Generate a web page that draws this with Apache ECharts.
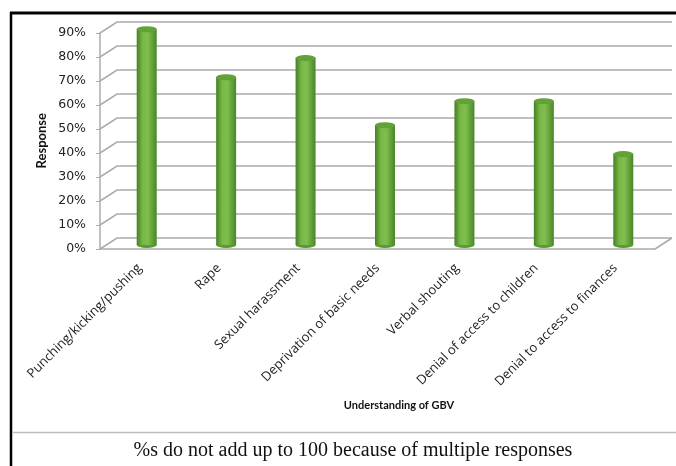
<!DOCTYPE html>
<html>
<head>
<meta charset="utf-8">
<script src="https://cdn.jsdelivr.net/npm/echarts@6/dist/echarts.min.js"></script>
<style>
html,body{margin:0;padding:0;background:#fff;}
#chart{width:676px;height:466px;}
</style>
</head>
<body>
<div id="chart"></div>
<script>
// ---- data ----
const categories = [
  'Punching/kicking/pushing',
  'Rape',
  'Sexual harassment',
  'Deprivation of basic needs',
  'Verbal shouting',
  'Denial of access to children',
  'Denial to access to finances'
];
const responses = [90, 70, 78, 50, 60, 60, 38];
const yTicks = [0, 10, 20, 30, 40, 50, 60, 70, 80, 90];
const xTitle = 'Understanding of GBV';
const yTitle = 'Response';
const footnote = '%s do not add up to 100 because of multiple responses';

// ---- style constants ----
const DEPTH_X = 17, DEPTH_Y = 11;
const gridColor = '#ababab';

const chart = echarts.init(document.getElementById('chart'), null, {renderer: 'canvas'});

const barGradient = new echarts.graphic.LinearGradient(0, 0, 1, 0, [
  {offset: 0, color: '#467f24'},
  {offset: 0.3, color: '#78b847'},
  {offset: 0.55, color: '#7fbf4e'},
  {offset: 1, color: '#4a8628'}
]);

const option = {
  backgroundColor: '#ffffff',
  animation: false,
  title: [
    {text: xTitle, left: 394, top: 395, textAlign: 'center',
     textStyle: {fontFamily: 'Lato', fontWeight: 'bold', fontSize: 11, color: '#111'}},
    {text: footnote, left: 348, top: 436, textAlign: 'center',
     textStyle: {fontFamily: 'Liberation Serif', fontWeight: 'normal', fontSize: 20, color: '#111'}}
  ],
  graphic: [
    {type: 'line', shape: {x1: 11, y1: 12, x2: 11, y2: 466}, style: {stroke: '#000', lineWidth: 2.5}},
    {type: 'line', shape: {x1: 10, y1: 13, x2: 676, y2: 13}, style: {stroke: '#000', lineWidth: 3}},
    {type: 'line', shape: {x1: 12, y1: 432.5, x2: 676, y2: 432.5}, style: {stroke: '#bdbdbd', lineWidth: 1.5}},
    {type: 'text', left: 35, top: 113, rotation: Math.PI / 2,
     style: {text: yTitle, fontFamily: 'Lato', fontWeight: 'bold', fontSize: 13, fill: '#111'}}
  ],
  grid: [
    {left: 100, right: 21, top: 33, bottom: 217},
    {left: 107, right: 13, top: 29, bottom: 221}
  ],
  xAxis: [
    {type: 'category', gridIndex: 0, data: categories,
     axisLine: {show: true, lineStyle: {color: gridColor, width: 1.5}},
     axisTick: {show: false},
     axisLabel: {rotate: 45, margin: 17, interval: 0, fontFamily: 'Open Sans', fontSize: 13, color: '#222'}},
    {type: 'category', gridIndex: 1, data: categories, show: false}
  ],
  yAxis: [
    {type: 'value', gridIndex: 0, min: 0, max: 90, interval: 10,
     axisLine: {show: true, lineStyle: {color: gridColor, width: 1.5}},
     axisTick: {show: true, length: 4, lineStyle: {color: gridColor}},
     splitLine: {show: false},
     axisLabel: {formatter: '{value}%', fontFamily: 'DejaVu Sans', fontSize: 12.5, color: '#222', margin: 14}},
    {type: 'value', gridIndex: 1, min: 0, max: 90, interval: 10, show: false, splitLine: {show: false}}
  ],
  series: [
    {
      type: 'custom', xAxisIndex: 0, yAxisIndex: 0, silent: true, z: 1,
      data: yTicks.map(v => [0, v]),
      renderItem: function (params, api) {
        const cs = params.coordSys;
        const y = api.coord([0, api.value(1)])[1];
        const x0 = cs.x, x1 = cs.x + cs.width;
        const children = [{
          type: 'polyline',
          shape: {points: [[x0, y], [x0 + DEPTH_X, y - DEPTH_Y], [x1 + DEPTH_X, y - DEPTH_Y]]},
          style: {stroke: gridColor, lineWidth: 1.5, fill: null}
        }];
        if (api.value(1) === 0) {
          children.push({
            type: 'line',
            shape: {x1: x1, y1: y, x2: x1 + DEPTH_X, y2: y - DEPTH_Y},
            style: {stroke: gridColor, lineWidth: 1.5}
          });
        }
        return {type: 'group', children: children};
      }
    },
    {
      type: 'bar', xAxisIndex: 1, yAxisIndex: 1, z: 3,
      data: responses, barWidth: 20,
      itemStyle: {color: barGradient}
    },
    {
      type: 'pictorialBar', xAxisIndex: 1, yAxisIndex: 1, z: 4,
      data: responses, symbol: 'circle', symbolSize: [20, 6],
      symbolPosition: 'end', symbolOffset: [0, '-50%'],
      itemStyle: {color: '#62a236', borderColor: '#4b8529', borderWidth: 0.8}
    },
    {
      type: 'pictorialBar', xAxisIndex: 1, yAxisIndex: 1, z: 2,
      data: responses, symbol: 'circle', symbolSize: [20, 6],
      symbolPosition: 'start', symbolOffset: [0, '50%'],
      itemStyle: {color: '#5a9a32'}
    }
  ]
};
chart.setOption(option);
</script>
</body>
</html>
